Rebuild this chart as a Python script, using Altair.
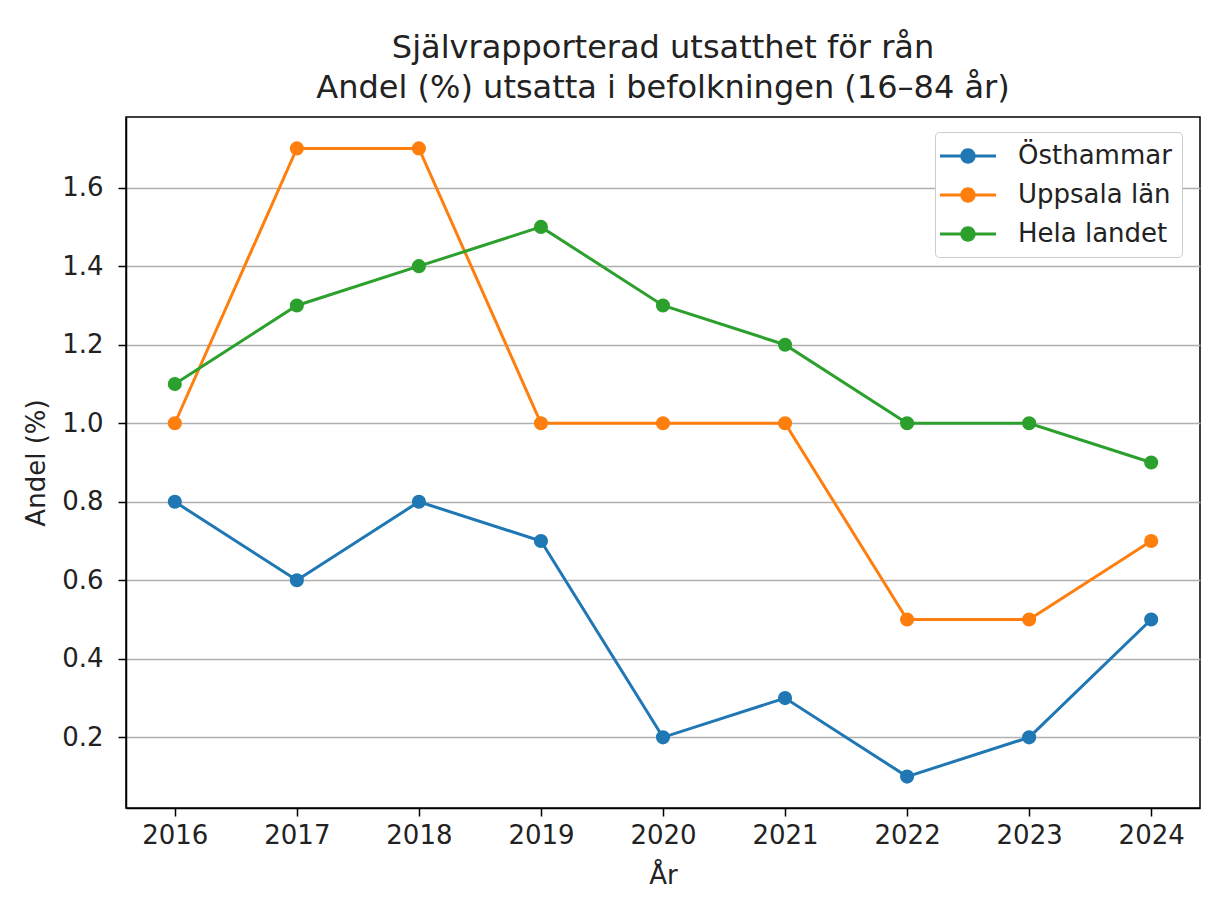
import altair as alt
import pandas as pd

years = [2016, 2017, 2018, 2019, 2020, 2021, 2022, 2023, 2024]
osthammar = [0.8, 0.6, 0.8, 0.7, 0.2, 0.3, 0.1, 0.2, 0.5]
uppsala = [1.0, 1.7, 1.7, 1.0, 1.0, 1.0, 0.5, 0.5, 0.7]
hela = [1.1, 1.3, 1.4, 1.5, 1.3, 1.2, 1.0, 1.0, 0.9]
series_names = ["Östhammar", "Uppsala län", "Hela landet"]
series_colors = ["#1f77b4", "#ff7f0e", "#2ca02c"]
y_ticks = [0.2, 0.4, 0.6, 0.8, 1.0, 1.2, 1.4, 1.6]

rows = []
for name, vals in zip(series_names, [osthammar, uppsala, hela]):
    for yr, v in zip(years, vals):
        rows.append({"År": yr, "Andel": v, "Serie": name})
df = pd.DataFrame(rows)

FONT = "DejaVu Sans"

x = alt.X("År:Q", scale=alt.Scale(domain=[2015.6, 2024.4], nice=False, zero=False),
          axis=alt.Axis(values=years, format="d", grid=False, title="År"))
y = alt.Y("Andel:Q", scale=alt.Scale(domain=[0.02, 1.78], nice=False, zero=False),
          axis=alt.Axis(values=y_ticks, format=".1f", grid=True, title="Andel (%)"))
color_scale = alt.Scale(domain=series_names, range=series_colors)

legend_path = ("M-2,-0.1H2V0.1H-2Z "
               "M0.55,0A0.55,0.55,0,1,1,-0.55,0A0.55,0.55,0,1,1,0.55,0Z")

lines = alt.Chart(df).mark_line(strokeWidth=3).encode(
    x=x, y=y,
    color=alt.Color("Serie:N", scale=color_scale, legend=None),
    detail="Serie:N",
)
points = alt.Chart(df).mark_point(filled=True, size=200, opacity=1).encode(
    x=x, y=y,
    color=alt.Color("Serie:N", scale=color_scale, sort=series_names,
                    legend=alt.Legend(
                        title=None, orient="none", legendX=809, legendY=15,
                        symbolType=legend_path, symbolSize=784,
                        symbolStrokeWidth=0, symbolOffset=9,
                        labelFontSize=26, labelFont=FONT, labelColor="#222222",
                        labelOffset=36, rowPadding=12, padding=10,
                        fillColor="white", strokeColor="#cccccc", cornerRadius=4,
                    )),
)

chart = alt.layer(lines, points).resolve_legend(color="independent").properties(
    width=1074,
    height=691,
    title=alt.TitleParams(
        text=["Självrapporterad utsatthet för rån", "Andel (%) utsatta i befolkningen (16–84 år)"],
        font=FONT, fontSize=32, fontWeight="normal", color="#222222",
        anchor="middle", lineHeight=40, offset=12,
    ),
    autosize=alt.AutoSizeParams(type="none"),
    padding={"left": 118, "top": 109, "right": 6, "bottom": 92},
).configure_view(
    stroke="black", strokeWidth=1.5,
).configure_axis(
    labelFont=FONT, labelFontSize=26, labelColor="#222222",
    titleFont=FONT, titleFontSize=26, titleFontWeight="normal", titleColor="#222222",
    domainColor="black", domainWidth=1.5,
    tickColor="black", tickSize=8, tickWidth=1.5,
    gridColor="#b0b0b0", gridWidth=1.3,
).configure_axisX(
    labelPadding=6, titlePadding=14,
).configure_axisY(
    labelPadding=15, titlePadding=12,
)

chart.save("out.html", embed_options={"renderer": "svg", "actions": False})
